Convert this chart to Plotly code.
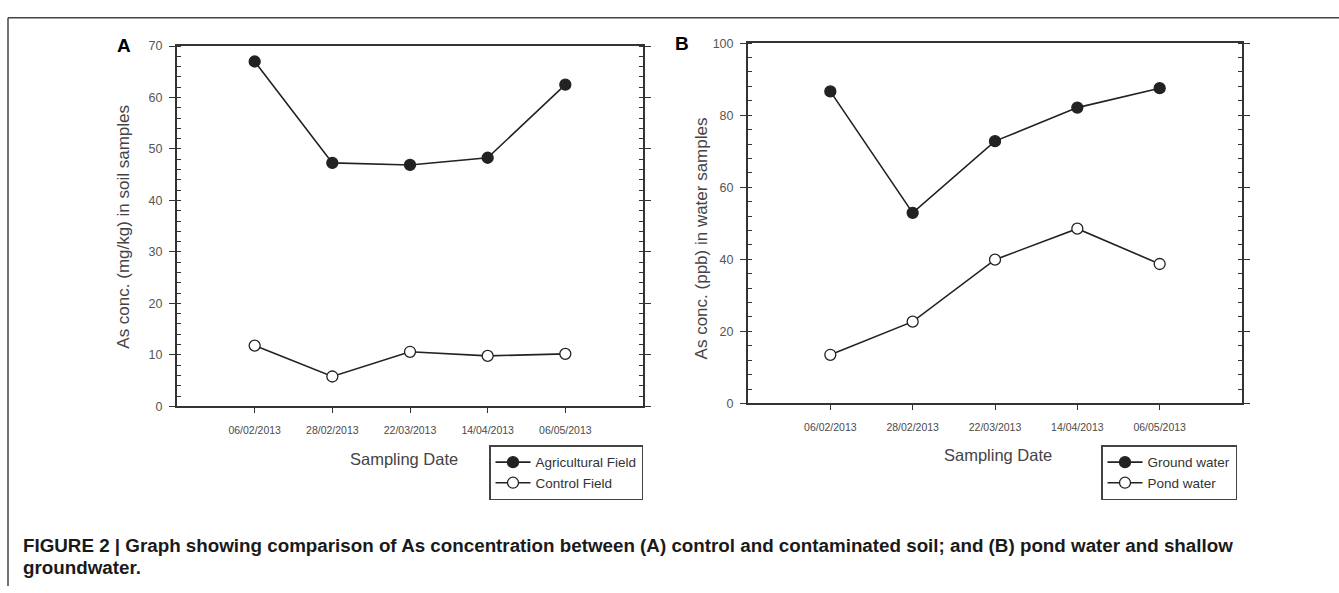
import plotly.graph_objects as go

W, H = 1339, 593

dates = ["06/02/2013", "28/02/2013", "22/03/2013", "14/04/2013", "06/05/2013"]
agricultural_field = [67.0, 47.3, 46.9, 48.3, 62.5]
control_field = [11.8, 5.8, 10.6, 9.8, 10.2]
ground_water = [86.6, 52.9, 72.8, 82.1, 87.5]
pond_water = [13.5, 22.7, 39.9, 48.5, 38.7]

FONT = "Liberation Sans, Arial, sans-serif"
LINE = "#222222"
AXC = "#333333"

def px(x):
    return x / W

def py(y):
    return 1 - y / H

fig = go.Figure()

def add_series(x, y, name, filled, xa, ya, legend):
    fig.add_trace(go.Scatter(
        x=x, y=y, name=name, mode="lines+markers",
        xaxis=xa, yaxis=ya, legend=legend,
        line=dict(color=LINE, width=1.6),
        marker=dict(symbol="circle", size=11,
                    color=LINE if filled else "white",
                    line=dict(color=LINE, width=1.3)),
    ))

add_series(dates, agricultural_field, "Agricultural Field", True, "x", "y", "legend")
add_series(dates, control_field, "Control Field", False, "x", "y", "legend")
add_series(dates, ground_water, "Ground water", True, "x2", "y2", "legend2")
add_series(dates, pond_water, "Pond water", False, "x2", "y2", "legend2")

xcommon = dict(
    type="category", range=[-1, 5], showgrid=False, zeroline=False,
    showline=True, linecolor=AXC, linewidth=2, mirror=True,
    ticks="outside", ticklen=5, tickwidth=1.2, tickcolor=AXC,
    tickfont=dict(family=FONT, size=10.5, color="#4a4a4a"),
    ticklabelstandoff=8,
)
ycommon = dict(
    showgrid=False, zeroline=False,
    showline=True, linecolor=AXC, linewidth=2, mirror="ticks",
    ticks="outside", ticklen=6, tickwidth=1.2, tickcolor=AXC,
    tickfont=dict(family=FONT, size=12.5, color="#555555"),
    ticklabelstandoff=4,
)

legend_common = dict(
    xanchor="left", yanchor="top",
    bordercolor="#444444", borderwidth=1.5, bgcolor="white",
    font=dict(family=FONT, size=13.5, color="#333333"),
    tracegroupgap=0, itemwidth=35,
)

fig.update_layout(
    width=W, height=H, autosize=False,
    margin=dict(l=0, r=0, t=0, b=0),
    paper_bgcolor="white", plot_bgcolor="white",
    showlegend=True,
    xaxis=dict(domain=[px(177), px(643)], anchor="y", **xcommon),
    yaxis=dict(domain=[py(409), py(40)], anchor="x", range=[0, 70], dtick=10,
               minor=dict(dtick=2, ticks="inside", ticklen=4, tickcolor=AXC, tickwidth=1),
               **ycommon),
    xaxis2=dict(domain=[px(748), px(1242)], anchor="y2", **xcommon),
    yaxis2=dict(domain=[py(406), py(37)], anchor="x2", range=[0, 100], dtick=20,
                minor=dict(dtick=4, ticks="inside", ticklen=4, tickcolor=AXC, tickwidth=1),
                **ycommon),
    legend=dict(x=px(489), y=py(449), **legend_common),
    legend2=dict(x=px(1101), y=py(449), **legend_common),
)

annotations = [
    dict(text="<b>A</b>", x=px(124), y=py(39), font=dict(size=19, color="black")),
    dict(text="<b>B</b>", x=px(682), y=py(37), font=dict(size=19, color="black")),
    dict(text="As conc. (mg/kg) in soil samples", x=px(124), y=py(225), textangle=-90,
         font=dict(size=17, color="#444444")),
    dict(text="As conc. (ppb) in water samples", x=px(701), y=py(237), textangle=-90,
         font=dict(size=17, color="#444444")),
    dict(text="Sampling Date", x=px(404), y=py(463), font=dict(size=16.5, color="#444444")),
    dict(text="Sampling Date", x=px(998), y=py(459), font=dict(size=16.5, color="#444444")),
    dict(text="<b>FIGURE 2 | Graph showing comparison of As concentration between (A) control and contaminated soil; and (B) pond water and shallow</b>",
         x=px(21), y=py(552), xanchor="left", font=dict(size=18.8, color="#1a1a1a")),
    dict(text="<b>groundwater.</b>", x=px(21), y=py(574), xanchor="left",
         font=dict(size=18.8, color="#1a1a1a")),
]
for a in annotations:
    a.setdefault("xanchor", "center")
    a.update(xref="paper", yref="paper", yanchor="middle", showarrow=False)
    a["font"] = dict(family=FONT, **a["font"])
fig.update_layout(annotations=annotations)

fig.update_layout(shapes=[
    dict(type="line", xref="paper", yref="paper", x0=px(8), x1=1.0, y0=py(11), y1=py(11),
         line=dict(color="#444444", width=1.5)),
    dict(type="line", xref="paper", yref="paper", x0=px(8), x1=px(8), y0=py(11), y1=0,
         line=dict(color="#444444", width=1.5)),
])

fig.write_html("out.html")
